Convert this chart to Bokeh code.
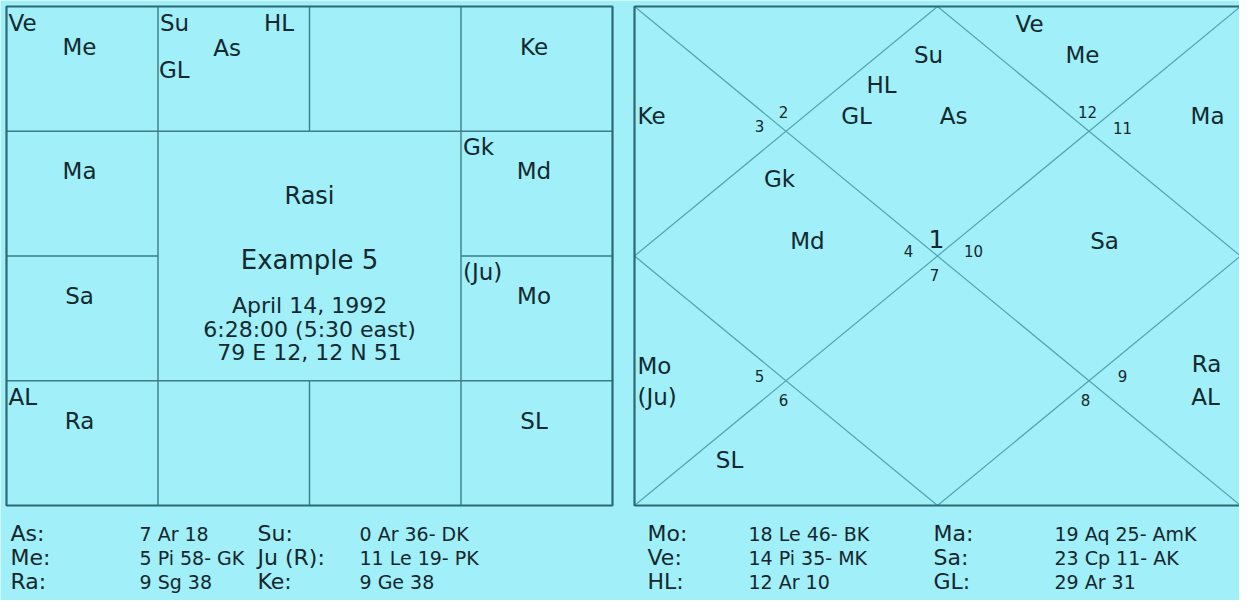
from bokeh.plotting import figure
from bokeh.models import Range1d, ColumnDataSource
from bokeh.core.properties import value
from bokeh.embed import file_html
from bokeh.resources import INLINE

# ---------------- data ----------------
# Rasi chart (South Indian style): signs laid out around a 4x4 grid
rasi_signs = ["Pi", "Ar", "Ta", "Ge", "Cn", "Le", "Vi", "Li", "Sc", "Sg", "Cp", "Aq"]
rasi_col = [0, 1, 2, 3, 3, 3, 3, 2, 1, 0, 0, 0]
rasi_row = [0, 0, 0, 0, 1, 2, 3, 3, 3, 3, 2, 1]

rasi_labels = ["Ve", "Me", "Su", "HL", "As", "GL", "Ke", "Gk", "Md", "(Ju)", "Mo", "SL", "AL", "Ra", "Sa", "Ma"]
rasi_label_sign = ["Pi", "Pi", "Ar", "Ar", "Ar", "Ar", "Ge", "Cn", "Cn", "Le", "Le", "Vi", "Sg", "Sg", "Cp", "Aq"]
rasi_label_slot = ["tl", "c", "tl", "tr", "c2", "bl", "c", "tl", "c", "tl", "c", "c", "tl", "c", "c", "c"]

centre_lines = ["Rasi", "Example 5", "April 14, 1992", "6:28:00 (5:30 east)", "79 E 12, 12 N 51"]

# Bhava chart (North Indian style): house numbers = sign numbers
house_numbers = ["1", "2", "3", "4", "5", "6", "7", "8", "9", "10", "11", "12"]
bhava_labels = ["Ve", "Su", "Me", "HL", "GL", "As", "Ke", "Ma", "Gk", "Md", "Sa", "Mo", "(Ju)", "Ra", "AL", "SL"]
bhava_house = [12, 1, 12, 1, 1, 1, 3, 11, 4, 4, 10, 5, 5, 9, 9, 6]

# Table of positions
tbl_labels = [["As:", "Su:", "Mo:", "Ma:"],
              ["Me:", "Ju (R):", "Ve:", "Sa:"],
              ["Ra:", "Ke:", "HL:", "GL:"]]
tbl_values = [["7 Ar 18", "0 Ar 36- DK", "18 Le 46- BK", "19 Aq 25- AmK"],
              ["5 Pi 58- GK", "11 Le 19- PK", "14 Pi 35- MK", "23 Cp 11- AK"],
              ["9 Sg 38", "9 Ge 38", "12 Ar 10", "29 Ar 31"]]

# ---------------- layout ----------------
BG = "#a0eff9"
TXT = "#12292e"
BORDER = "#2c6a73"
GRID = "#3b7e87"
DIAG = "#52a5b0"
FONT = value("DejaVu Sans")

LX0, TY0, BW, BH = 14, 14, 606, 499
RX0 = 642
CW, CH = BW / 4, BH / 4

p = figure(width=1239, height=600, x_range=Range1d(8, 1247), y_range=Range1d(608, 8),
           output_backend="svg", toolbar_location=None, min_border=0,
           x_axis_type=None, y_axis_type=None)
p.grid.visible = False
p.outline_line_color = None
p.background_fill_color = BG
p.border_fill_color = BG


def txt(xs, ys, texts, size, align="center", color=TXT, style="normal"):
    src = ColumnDataSource(dict(x=xs, y=ys, t=texts))
    p.text("x", "y", text="t", source=src, text_font=FONT, text_font_size=value(size),
           text_align=align, text_baseline="middle", text_color=color, text_font_style=style)


# --- left chart grid ---
x0s, y0s, x1s, y1s = [], [], [], []
for i in (1, 3):
    x = LX0 + CW * i
    x0s.append(x); y0s.append(TY0); x1s.append(x); y1s.append(TY0 + BH)
    y = TY0 + CH * i
    x0s.append(LX0); y0s.append(y); x1s.append(LX0 + BW); y1s.append(y)
xm = LX0 + CW * 2
ym = TY0 + CH * 2
x0s += [xm, xm, LX0, LX0 + 3 * CW]
y0s += [TY0, TY0 + 3 * CH, ym, ym]
x1s += [xm, xm, LX0 + CW, LX0 + BW]
y1s += [TY0 + CH, TY0 + BH, ym, ym]
p.segment(x0s, y0s, x1s, y1s, line_color=GRID, line_width=1.4)
p.quad(left=[LX0], right=[LX0 + BW], top=[TY0], bottom=[TY0 + BH], fill_color=None,
       line_color=BORDER, line_width=2.2)

# --- left chart labels ---
slot_off = {"tl": (2, 16, "left"), "c": (73, 40, "center"), "tr": (121, 16, "center"),
            "c2": (69, 41, "center"), "bl": (1, 63, "left")}
lx, ly, lt, la = [], [], [], []
for lab, sg, sl in zip(rasi_labels, rasi_label_sign, rasi_label_slot):
    k = rasi_signs.index(sg)
    cx = LX0 + CW * rasi_col[k]
    cy = TY0 + CH * rasi_row[k]
    dx, dy, al = slot_off[sl]
    lx.append(cx + dx); ly.append(cy + dy); lt.append(lab); la.append(al)
for al in ("left", "center"):
    idx = [i for i in range(len(lt)) if la[i] == al]
    txt([lx[i] for i in idx], [ly[i] for i in idx], [lt[i] for i in idx], "23px", align=al)

ccx = LX0 + BW / 2
txt([ccx], [TY0 + 189], [centre_lines[0]], "24px")
txt([ccx], [TY0 + 253], [centre_lines[1]], "26px")
txt([ccx] * 3, [TY0 + 299, TY0 + 323, TY0 + 346], centre_lines[2:], "22px")

# --- right chart ---
RX1, RY1 = RX0 + BW, TY0 + BH
mx, my = RX0 + BW / 2, TY0 + BH / 2
p.segment([RX0, RX0, mx, mx, RX1, RX0],
          [TY0, RY1, TY0, RY1, my, my],
          [RX1, RX1, RX1, RX0, mx, mx],
          [RY1, TY0, my, my, RY1, TY0], line_color=DIAG, line_width=1.2)
p.quad(left=[RX0], right=[RX1], top=[TY0], bottom=[RY1], fill_color=None,
       line_color=BORDER, line_width=2.2)

# label positions inside the right box (pixel offsets from its top-left corner)
bhava_pos = [(395, 17, "center"), (294, 48, "center"), (448, 48, "center"), (247, 78, "center"),
             (222, 109, "center"), (319, 109, "center"), (3, 109, "left"), (573, 109, "center"),
             (145, 172, "center"), (173, 234, "center"), (470, 234, "center"), (3, 359, "left"),
             (3, 390, "left"), (572, 357, "center"), (571, 390, "center"), (95, 453, "center")]
for al in ("left", "center"):
    idx = [i for i in range(len(bhava_labels)) if bhava_pos[i][2] == al]
    txt([RX0 + bhava_pos[i][0] for i in idx], [TY0 + bhava_pos[i][1] for i in idx],
        [bhava_labels[i] for i in idx], "23px", align=al)

num_pos = [(302, 232), (149, 105), (125, 119), (274, 244), (125, 369), (149, 393),
           (300, 268), (451, 393), (488, 369), (339, 244), (488, 121), (453, 105)]
txt([RX0 + num_pos[i][0] for i in range(1, 12)], [TY0 + num_pos[i][1] for i in range(1, 12)],
    house_numbers[1:], "15px")
txt([RX0 + num_pos[0][0]], [TY0 + num_pos[0][1]], house_numbers[:1], "25px")

# --- table ---
lab_x = [18, 265, 655, 941]
val_x = [147, 367, 756, 1062]
row_y = [541, 565, 589]
tx, ty, tt, vx, vy, vt = [], [], [], [], [], []
for r in range(3):
    for c in range(4):
        tx.append(lab_x[c]); ty.append(row_y[r]); tt.append(tbl_labels[r][c])
        vx.append(val_x[c]); vy.append(row_y[r]); vt.append(tbl_values[r][c])
txt(tx, ty, tt, "22px", align="left", color="#15272c")
txt(vx, vy, vt, "19px", align="left", color="#15272c")

open("out.html", "w").write(file_html(p, INLINE))
